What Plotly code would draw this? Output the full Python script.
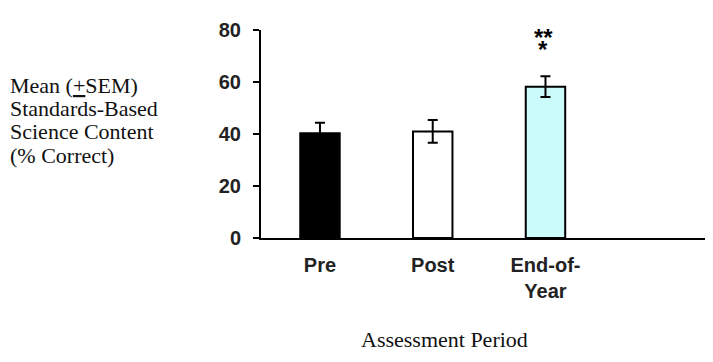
import plotly.graph_objects as go

categories = ["Pre", "Post", "End-of-<br>Year"]
means = [40.3, 41.0, 58.2]
sems = [4.0, 4.4, 4.0]
bar_colors = ["#000000", "#ffffff", "#ccfbfc"]
y_ticks = [0, 20, 40, 60, 80]
y_title_lines = ["Mean (<u>+</u>SEM)", "Standards-Based", "Science Content", "(% Correct)"]
x_title = "Assessment Period"
sig_marks = ["**", "*"]

xpos = list(range(len(categories)))

fig = go.Figure()
fig.add_trace(go.Bar(
    x=xpos, y=means, width=0.35,
    marker=dict(color=bar_colors, line=dict(color="black", width=2)),
    error_y=dict(type="data", array=sems, visible=True, color="black", thickness=2, width=5),
    showlegend=False,
))

# the page body has an 8px default margin; size/margins compensate for it
fig.update_layout(
    width=705, height=354,
    margin=dict(l=253, r=2, t=22, b=124),
    paper_bgcolor="white", plot_bgcolor="white",
    xaxis=dict(range=[-0.523, 3.468], tickvals=xpos,
               ticktext=["<b>%s</b>" % c for c in categories],
               showline=True, linecolor="black", linewidth=2, ticks="",
               showgrid=False, zeroline=False,
               tickfont=dict(family="Liberation Sans", size=20, color="#222"),
               ticklabelstandoff=8),
    yaxis=dict(range=[0, 80], tickvals=y_ticks,
               ticktext=["<b>%d</b>" % v for v in y_ticks],
               showline=True, linecolor="black", linewidth=2,
               ticks="outside", ticklen=6, tickwidth=2, tickcolor="black",
               showgrid=False, zeroline=False,
               tickfont=dict(family="Liberation Sans", size=20, color="#222"),
               ticklabelstandoff=8),
    font=dict(family="Liberation Sans", color="black"),
)

# y title lines (left, serif)
line_y = [58.8, 50.0, 40.8, 31.9]
for txt, yy in zip(y_title_lines, line_y):
    fig.add_annotation(text=txt, xref="paper", yref="y", x=-0.5622, y=yy,
                       xanchor="left", yanchor="middle", showarrow=False,
                       font=dict(family="Liberation Serif", size=22, color="#111"))

fig.add_annotation(text=x_title, xref="paper", yref="paper", x=0.4067, y=-0.49,
                   xanchor="center", yanchor="middle", showarrow=False,
                   font=dict(family="Liberation Serif", size=22, color="#111"))

# significance stars
for txt, yy in zip(sig_marks, [77.3, 72.6]):
    fig.add_annotation(text="<b>%s</b>" % txt, xref="x", yref="y", x=1.98, y=yy,
                       xanchor="center", yanchor="middle", showarrow=False,
                       font=dict(family="Liberation Sans", size=24, color="black"))

fig.write_html("out.html")
